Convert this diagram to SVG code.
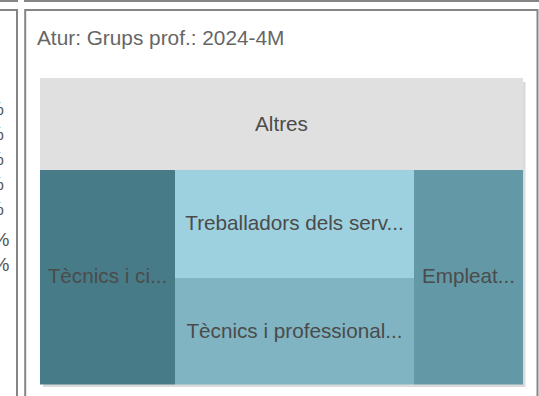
<svg xmlns="http://www.w3.org/2000/svg" width="539" height="396" viewBox="0 0 539 396">
<style>
.border{fill:none;stroke:#858585;stroke-width:2}
.title{font-family:"Liberation Sans",Arial,sans-serif;font-size:20.8px;fill:#666666}
.lbl{font-family:"Liberation Sans",Arial,sans-serif;font-size:20.7px;fill:#4b4b4b;text-anchor:middle}
.pct{font-family:"Liberation Sans",Arial,sans-serif;font-size:19px;fill:#555555;text-anchor:end}
</style>
<rect width="539" height="396" fill="#ffffff"/>
<g id="panel-top">
<path class="border" d="M0 1 H17 V0 M25 0 V1 H539"/>
</g>
<g id="panel-left">
<path class="border" d="M0 10 H17 V396"/>
<text class="pct" x="4" y="115">%</text>
<text class="pct" x="4" y="140">%</text>
<text class="pct" x="4" y="165">%</text>
<text class="pct" x="4" y="190">%</text>
<text class="pct" x="4" y="215">%</text>
<text class="pct" x="9.5" y="246">%</text>
<text class="pct" x="9.5" y="271">%</text>
</g>
<g id="panel-right">
<path class="border" d="M25.2 396 V10 H537.5 V396"/>
<text class="title" x="37" y="45">Atur: Grups prof.: 2024-4M</text>
</g>
<g id="treemap">
<rect x="43" y="82" width="482.5" height="305" fill="#dadada"/>
<g id="node-altres">
<rect x="40" y="78" width="483" height="92" fill="#e0e0e0"/>
<text class="lbl" x="281.5" y="131">Altres</text>
</g>
<g id="node-tecnics-ci">
<rect x="40" y="170" width="135" height="214.5" fill="#487b88"/>
<text class="lbl" x="107.5" y="283.3">Tècnics i ci...</text>
</g>
<g id="node-treballadors">
<rect x="175" y="170" width="239" height="108" fill="#9ed1df"/>
<text class="lbl" x="294.5" y="229.5">Treballadors dels serv...</text>
</g>
<g id="node-tecnics-prof">
<rect x="175" y="278" width="239" height="106.5" fill="#80b4c3"/>
<text class="lbl" x="294.5" y="337.7">Tècnics i professional...</text>
</g>
<g id="node-empleats">
<rect x="414" y="170" width="109" height="214.5" fill="#6399a6"/>
<text class="lbl" x="468.5" y="283.3">Empleat...</text>
</g>
</g>
<g id="connectors"/>
</svg>
